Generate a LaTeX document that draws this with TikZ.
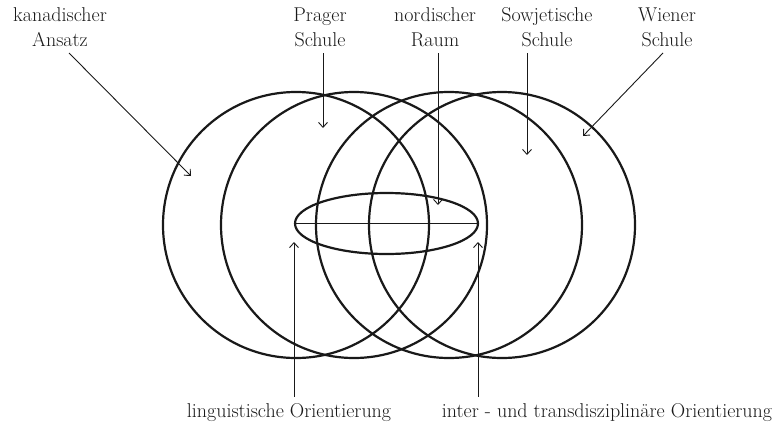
\documentclass[tikz,border=0pt]{standalone}
\usetikzlibrary{arrows.meta,positioning,calc,shapes.geometric}
\definecolor{SkInk}{RGB}{25,25,25}
\tikzset{
  sk/kreis/.style={
    circle,
    draw=SkInk,
    line width=2.2pt,
    minimum size=266pt,
    inner sep=0pt
  },
  sk/oval/.style={
    ellipse,
    draw=SkInk,
    line width=2.2pt,
    minimum width=183pt,
    minimum height=61pt,
    inner sep=0pt
  },
  sk/label/.style={
    font=\fontsize{20}{25}\selectfont,
    text=SkInk,
    align=center,
    inner xsep=0pt,
    inner ysep=6pt
  },
  sk/pfeil/.style={-{Straight Barb[length=5pt,width=9pt]}, line width=0.9pt, draw=SkInk},
  sk/linie/.style={line width=1.9pt, draw=SkInk}
}

\begin{document}
\begin{tikzpicture}[x=1pt,y=-1pt]
  \useasboundingbox (0,0) rectangle (778,423);

  % the four schools
  \node[sk/kreis] (kreisKanada) at (296,225) {};
  \node[sk/kreis] (kreisPrag) at (354,225) {};
  \node[sk/kreis] (kreisSowjet) at (449,225) {};
  \node[sk/kreis] (kreisWien) at (502,225) {};

  % nordic space
  \node[sk/oval] (kern) at (386.5,223.5) {};
  \draw[sk/linie] (kern.west) -- (kern.east);

  % labels
  \node[sk/label, anchor=south] (kanada) at (60,53) {kanadischer\\Ansatz};
  \node[sk/label, anchor=south] (prag) at (320,53) {Prager\\Schule};
  \node[sk/label, anchor=south] (nord) at (435,53) {nordischer\\Raum};
  \node[sk/label, anchor=south] (sowjet) at (547,53) {Sowjetische\\Schule};
  \node[sk/label, anchor=south] (wien) at (667,53) {Wiener\\Schule};
  \node[sk/label, anchor=base] (lingu) at (289,417) {linguistische Orientierung};
  \node[sk/label, anchor=base] (inter) at (607,417) {inter - und transdisziplinäre Orientierung};

  % arrow tips
  \coordinate (spitzeKanada) at (191,176);
  \coordinate (spitzePrag) at (323,128);
  \coordinate (spitzeNord) at (438,205);
  \coordinate (spitzeSowjet) at (527,155);
  \coordinate (spitzeWien) at (583,136);
  \coordinate (spitzeLingu) at (294,242);
  \coordinate (spitzeInter) at (478,242);

  % arrows
  \draw[sk/pfeil] ([xshift=9pt]kanada.south) -- (spitzeKanada);
  \draw[sk/pfeil] (prag.south -| spitzePrag) -- (spitzePrag);
  \draw[sk/pfeil] (nord.south -| spitzeNord) -- (spitzeNord);
  \draw[sk/pfeil] (sowjet.south -| spitzeSowjet) -- (spitzeSowjet);
  \draw[sk/pfeil] ([xshift=-4pt]wien.south) -- (spitzeWien);
  \draw[sk/pfeil] (lingu.north -| spitzeLingu) -- (spitzeLingu);
  \draw[sk/pfeil] (inter.north -| spitzeInter) -- (spitzeInter);
\end{tikzpicture}
\end{document}
